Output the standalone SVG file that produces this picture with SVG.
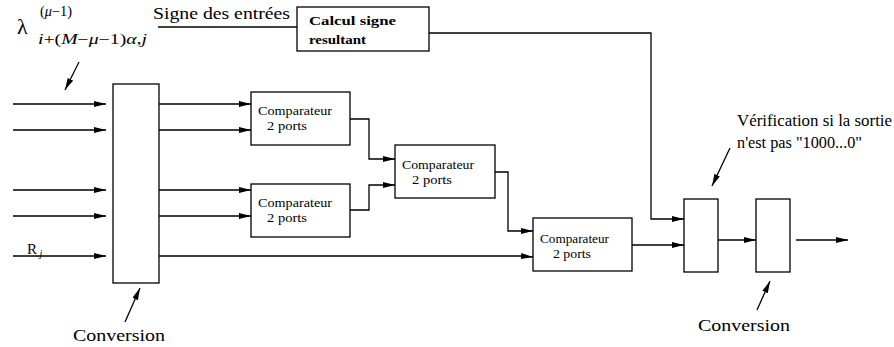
<svg xmlns="http://www.w3.org/2000/svg" width="894" height="347" viewBox="0 0 894 347">
<defs>
<marker id="ah" markerWidth="12" markerHeight="6" refX="12" refY="3" orient="auto" markerUnits="userSpaceOnUse"><path d="M0,0 L12,3 L0,6 z" fill="#000"/></marker>
<style>
.box{fill:#fff;stroke:#000;stroke-width:1.3}
.ln{fill:none;stroke:#000;stroke-width:1.3}
.ar{fill:none;stroke:#000;stroke-width:1.3;marker-end:url(#ah)}
</style>
</defs>
<rect width="894" height="347" fill="#fff"/>

<g font-family="'Liberation Serif', 'DejaVu Serif', serif" fill="#000">
<g id="labels">
<text x="153" y="19" font-size="16" textLength="137" lengthAdjust="spacingAndGlyphs">Signe des entrées</text>
<text x="17" y="34" font-size="22">λ</text>
<text x="40" y="16" font-size="14" textLength="32" lengthAdjust="spacingAndGlyphs">(<tspan font-style="italic">μ</tspan>−1)</text>
<text x="38" y="44" font-size="14" textLength="109" lengthAdjust="spacingAndGlyphs"><tspan font-style="italic">i</tspan>+(<tspan font-style="italic">M</tspan>−<tspan font-style="italic">μ</tspan>−1)<tspan font-style="italic">α</tspan>,<tspan font-style="italic">j</tspan></text>
<text x="27" y="254" font-size="15">R<tspan font-size="10" font-style="italic" dy="3">.j</tspan></text>
<text x="73" y="341" font-size="16" textLength="92" lengthAdjust="spacingAndGlyphs">Conversion</text>
<text x="698" y="331" font-size="16" textLength="92" lengthAdjust="spacingAndGlyphs">Conversion</text>
<text x="737" y="126" font-size="16" textLength="155" lengthAdjust="spacingAndGlyphs">Vérification si la sortie</text>
<text x="737" y="148" font-size="16" textLength="125" lengthAdjust="spacingAndGlyphs">n'est pas "1000...0"</text>
</g>

<g id="calcul">
<rect class="box" x="297" y="7" width="132" height="44"/>
<text x="309" y="25" font-size="13" font-weight="bold" textLength="87" lengthAdjust="spacingAndGlyphs">Calcul signe</text>
<text x="309" y="44" font-size="13" font-weight="bold" textLength="57" lengthAdjust="spacingAndGlyphs">resultant</text>
</g>

<g id="conv1"><rect class="box" x="113" y="84" width="46" height="199"/></g>

<g id="comp1">
<rect class="box" x="251" y="92" width="99" height="53"/>
<text x="258" y="115" font-size="12" textLength="74" lengthAdjust="spacingAndGlyphs">Comparateur</text>
<text x="267" y="130" font-size="12" textLength="40" lengthAdjust="spacingAndGlyphs">2 ports</text>
</g>
<g id="comp2">
<rect class="box" x="251" y="184" width="99" height="53"/>
<text x="258" y="207" font-size="12" textLength="74" lengthAdjust="spacingAndGlyphs">Comparateur</text>
<text x="267" y="222" font-size="12" textLength="40" lengthAdjust="spacingAndGlyphs">2 ports</text>
</g>
<g id="comp3">
<rect class="box" x="395" y="145" width="100" height="53"/>
<text x="402" y="169" font-size="12" textLength="72" lengthAdjust="spacingAndGlyphs">Comparateur</text>
<text x="412" y="184" font-size="12" textLength="40" lengthAdjust="spacingAndGlyphs">2 ports</text>
</g>
<g id="comp4">
<rect class="box" x="533" y="218" width="99" height="53"/>
<text x="540" y="243" font-size="12" textLength="69" lengthAdjust="spacingAndGlyphs">Comparateur</text>
<text x="553" y="258" font-size="12" textLength="38" lengthAdjust="spacingAndGlyphs">2 ports</text>
</g>
</g>
<g id="verif"><rect class="box" x="684" y="199" width="34" height="73"/></g>
<g id="conv2"><rect class="box" x="756" y="199" width="34" height="73"/></g>

<g id="connectors">
<line class="ar" x1="13" y1="104" x2="106" y2="104"/>
<line class="ar" x1="13" y1="130" x2="106" y2="130"/>
<line class="ar" x1="13" y1="190" x2="106" y2="190"/>
<line class="ar" x1="13" y1="216" x2="106" y2="216"/>
<line class="ar" x1="13" y1="256" x2="106" y2="256"/>
<line class="ar" x1="159" y1="104" x2="251" y2="104"/>
<line class="ar" x1="159" y1="130" x2="251" y2="130"/>
<line class="ar" x1="159" y1="190" x2="251" y2="190"/>
<line class="ar" x1="159" y1="216" x2="251" y2="216"/>
<polyline class="ar" points="159,256 520,256 533,257"/>
<polyline class="ar" points="350,119 369,119 369,159 395,159"/>
<polyline class="ar" points="350,210 369,210 369,185 395,185"/>
<polyline class="ar" points="495,172 508,172 508,231 533,231"/>
<line class="ar" x1="632" y1="245" x2="684" y2="245"/>
<line class="ln" x1="158" y1="27" x2="297" y2="27"/>
<polyline class="ar" points="429,33 651,33 651,219 684,219"/>
<line class="ar" x1="718" y1="240" x2="756" y2="240"/>
<line class="ar" x1="796" y1="240" x2="848" y2="240"/>
<line class="ar" x1="79" y1="62" x2="65" y2="90"/>
<line class="ar" x1="125" y1="322" x2="140" y2="288"/>
<line class="ar" x1="757" y1="310" x2="770" y2="281"/>
<line class="ar" x1="730" y1="148" x2="712" y2="186"/>
</g>
</svg>
